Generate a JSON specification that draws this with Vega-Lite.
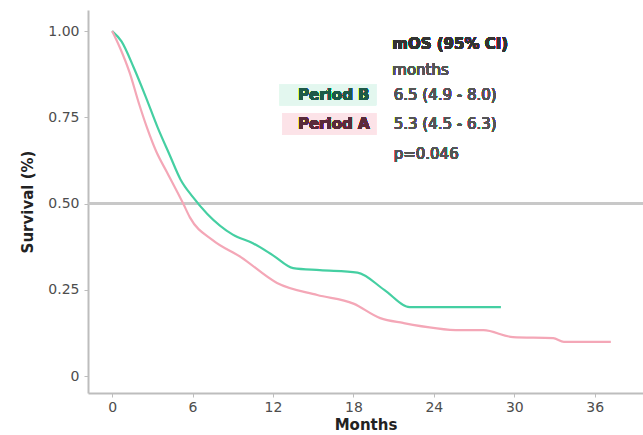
{
  "$schema": "https://vega.github.io/schema/vega-lite/v6.json",
  "width": 555,
  "height": 383,
  "autosize": {"type": "none"},
  "padding": {"left": 88, "top": 10, "right": 0, "bottom": 42},
  "background": "white",
  "config": {
    "view": {"stroke": null},
    "font": "DejaVu Sans",
    "axis": {"grid": false, "domainColor": "#bdbdbd", "domainWidth": 2, "tickColor": "#bdbdbd", "labelColor": "#4d4d4d", "labelFont": "DejaVu Sans", "labelFontSize": 14, "titleFont": "DejaVu Sans", "titleFontSize": 15, "titleColor": "#222", "titleFontWeight": "bold"}
  },
  "data": {"values": [
    {"group": "Period B", "month": 0, "surv": 1.0},
    {"group": "Period B", "month": 0.7, "surv": 0.97},
    {"group": "Period B", "month": 1.6, "surv": 0.895},
    {"group": "Period B", "month": 2.5, "surv": 0.81},
    {"group": "Period B", "month": 3.4, "surv": 0.72},
    {"group": "Period B", "month": 4.3, "surv": 0.64},
    {"group": "Period B", "month": 5.1, "surv": 0.57},
    {"group": "Period B", "month": 6.0, "surv": 0.52},
    {"group": "Period B", "month": 7.1, "surv": 0.47},
    {"group": "Period B", "month": 9.0, "surv": 0.41},
    {"group": "Period B", "month": 10.5, "surv": 0.385},
    {"group": "Period B", "month": 12.0, "surv": 0.35},
    {"group": "Period B", "month": 13.5, "surv": 0.313},
    {"group": "Period B", "month": 15.5, "surv": 0.307},
    {"group": "Period B", "month": 18.3, "surv": 0.30},
    {"group": "Period B", "month": 20.3, "surv": 0.25},
    {"group": "Period B", "month": 22.2, "surv": 0.20},
    {"group": "Period B", "month": 27.7, "surv": 0.20},
    {"group": "Period B", "month": 29.0, "surv": 0.20},
    {"group": "Period A", "month": 0, "surv": 1.0},
    {"group": "Period A", "month": 0.6, "surv": 0.95},
    {"group": "Period A", "month": 1.3, "surv": 0.88},
    {"group": "Period A", "month": 2.0, "surv": 0.79},
    {"group": "Period A", "month": 2.6, "surv": 0.72},
    {"group": "Period A", "month": 3.3, "surv": 0.65},
    {"group": "Period A", "month": 4.1, "surv": 0.59},
    {"group": "Period A", "month": 5.3, "surv": 0.50},
    {"group": "Period A", "month": 5.8, "surv": 0.46},
    {"group": "Period A", "month": 7.5, "surv": 0.394},
    {"group": "Period A", "month": 9.6, "surv": 0.345},
    {"group": "Period A", "month": 12.3, "surv": 0.27},
    {"group": "Period A", "month": 15.3, "surv": 0.235},
    {"group": "Period A", "month": 18.0, "surv": 0.21},
    {"group": "Period A", "month": 20.0, "surv": 0.168},
    {"group": "Period A", "month": 21.7, "surv": 0.154},
    {"group": "Period A", "month": 26.0, "surv": 0.133},
    {"group": "Period A", "month": 27.7, "surv": 0.133},
    {"group": "Period A", "month": 29.9, "surv": 0.113},
    {"group": "Period A", "month": 32.9, "surv": 0.11},
    {"group": "Period A", "month": 33.7, "surv": 0.099},
    {"group": "Period A", "month": 37.2, "surv": 0.099}
  ]},
  "layer": [
    {
      "mark": {"type": "rule", "color": "#c8c8c8", "strokeWidth": 1.5},
      "encoding": {"y": {"datum": 0.5}}
    },
    {
      "mark": {"type": "line", "interpolate": "monotone", "strokeWidth": 2.2},
      "encoding": {
        "x": {"field": "month", "type": "quantitative", "scale": {"domain": [-1.8, 39.6], "nice": false, "zero": false},
          "axis": {"values": [0, 6, 12, 18, 24, 30, 36], "title": "Months", "titlePadding": 3, "tickSize": 4, "labelPadding": 3}},
        "y": {"field": "surv", "type": "quantitative", "scale": {"domain": [-0.049, 1.061], "nice": false, "zero": false},
          "axis": {"values": [0, 0.25, 0.5, 0.75, 1], "labelExpr": "datum.value == 0 ? '0' : format(datum.value, '.2f')", "title": "Survival (%)", "titlePadding": 12, "tickSize": 4, "labelPadding": 5}},
        "color": {"field": "group", "type": "nominal", "scale": {"domain": ["Period B", "Period A"], "range": ["#45cfa2", "#f4a7b7"]}, "legend": null},
        "detail": {"field": "group"}
      }
    },
    {
      "mark": {"type": "rect", "color": "#e3f7ef"},
      "encoding": {"x": {"datum": 12.5}, "x2": {"datum": 19.7}, "y": {"datum": 0.845}, "y2": {"datum": 0.785}}
    },
    {
      "mark": {"type": "rect", "color": "#fce3e8"},
      "encoding": {"x": {"datum": 12.7}, "x2": {"datum": 19.7}, "y": {"datum": 0.762}, "y2": {"datum": 0.7}}
    },
    {
      "mark": {"type": "text", "align": "right", "baseline": "middle", "fontSize": 15, "fontWeight": "bold", "color": "#1e5a48"},
      "encoding": {"x": {"datum": 19.2}, "y": {"datum": 0.815}, "text": {"value": "Period B"}}
    },
    {
      "mark": {"type": "text", "align": "right", "baseline": "middle", "fontSize": 15, "fontWeight": "bold", "color": "#5a2a3a"},
      "encoding": {"x": {"datum": 19.2}, "y": {"datum": 0.731}, "text": {"value": "Period A"}}
    },
    {
      "mark": {"type": "text", "align": "left", "baseline": "middle", "fontSize": 15, "fontWeight": "bold", "color": "#333"},
      "encoding": {"x": {"datum": 20.9}, "y": {"datum": 0.962}, "text": {"value": "mOS (95% CI)"}}
    },
    {
      "mark": {"type": "text", "align": "left", "baseline": "middle", "fontSize": 15, "color": "#555"},
      "encoding": {"x": {"datum": 20.9}, "y": {"datum": 0.887}, "text": {"value": "months"}}
    },
    {
      "mark": {"type": "text", "align": "left", "baseline": "middle", "fontSize": 15, "color": "#555"},
      "encoding": {"x": {"datum": 21.0}, "y": {"datum": 0.815}, "text": {"value": "6.5 (4.9 - 8.0)"}}
    },
    {
      "mark": {"type": "text", "align": "left", "baseline": "middle", "fontSize": 15, "color": "#555"},
      "encoding": {"x": {"datum": 21.0}, "y": {"datum": 0.731}, "text": {"value": "5.3 (4.5 - 6.3)"}}
    },
    {
      "mark": {"type": "text", "align": "left", "baseline": "middle", "fontSize": 15, "color": "#555"},
      "encoding": {"x": {"datum": 21.0}, "y": {"datum": 0.645}, "text": {"value": "p=0.046"}}
    }
  ]
}
